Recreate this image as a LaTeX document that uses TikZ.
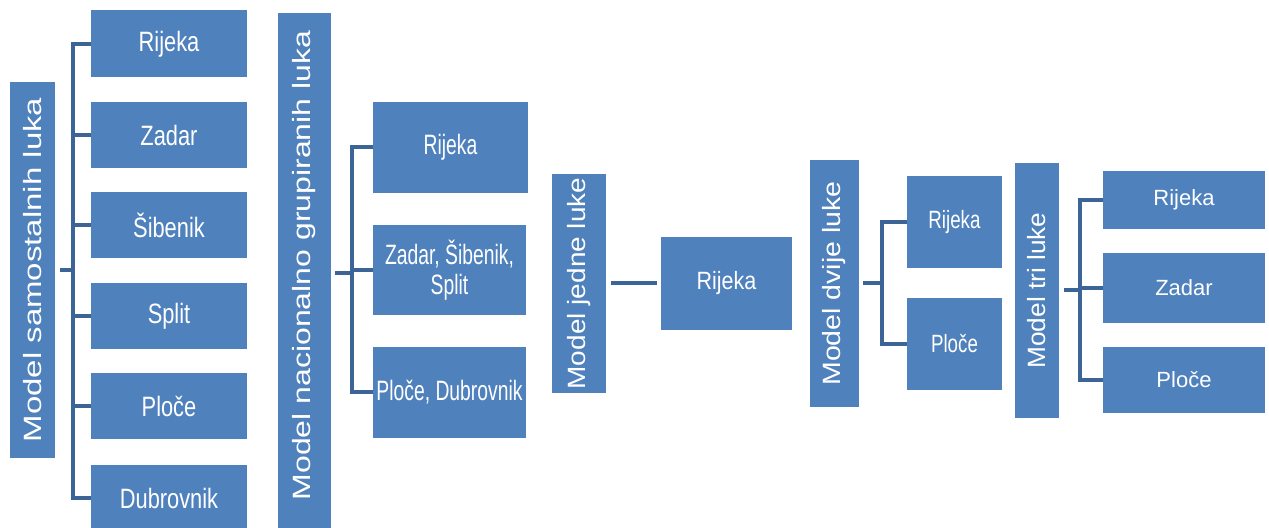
\documentclass[tikz,border=0pt]{standalone}
\usepackage{fontspec}
\setmainfont{Liberation Sans}
\usepackage{graphicx}
\usepackage{xcolor}
\usepackage{tikz}

\definecolor{portblue}{HTML}{4F81BD}
\definecolor{linkblue}{HTML}{3C6496}

\tikzset{
    model/.style={rectangle, fill=portblue, text=white, inner sep=0pt, font=\fontsize{12.5}{15}\selectfont},
    port/.style 2 args={rectangle, fill=portblue, text=white, align=center, inner sep=1pt,
        font=\fontsize{#1}{15}\selectfont\addfontfeature{FakeStretch=#2}},
    link/.style={draw=linkblue, line width=2pt}
}

\begin{document}
\begin{tikzpicture}[x=0.5pt, y=-0.5pt]
    \useasboundingbox (0,0) rectangle (1269,528);

    % Models
    \node[model, minimum width=22.5pt, minimum height=188pt] (m1) at (32.5,270) {\rotatebox{90}{\scalebox{1.32}[1]{Model samostalnih luka}}};
    \node[model, minimum width=26.5pt, minimum height=260pt] (m2) at (304.5,273.5) {\rotatebox{90}{\hspace{8pt}\scalebox{1.28}[1]{Model nacionalno grupiranih luka}}};
    \node[model, minimum width=27pt, minimum height=109.5pt] (m3) at (579,283.5) {\rotatebox{90}{\scalebox{1.12}[1]{Model jedne luke}}};
    \node[model, minimum width=24.5pt, minimum height=123.5pt] (m4) at (834.5,283.5) {\rotatebox{90}{\scalebox{1.14}[1]{Model dvije luke}}};
    \node[model, minimum width=22pt, minimum height=127.5pt] (m5) at (1037,290.5) {\rotatebox{90}{\scalebox{1.05}[1]{Model tri luke}}};

    % Ports
    \node[port={14}{0.78}, minimum width=78pt, minimum height=33.5pt] (a1) at (169,44) {Rijeka};
    \node[port={14}{0.78}, minimum width=78pt, minimum height=33pt] (a2) at (169,135) {Zadar};
    \node[port={14}{0.78}, minimum width=78pt, minimum height=33pt] (a3) at (169,225) {Šibenik};
    \node[port={14}{0.78}, minimum width=78pt, minimum height=33pt] (a4) at (169,316) {Split};
    \node[port={14}{0.78}, minimum width=78pt, minimum height=33pt] (a5) at (169,406) {Ploče};
    \node[port={14}{0.78}, minimum width=78pt, minimum height=33pt] (a6) at (169,498) {Dubrovnik};

    \node[port={14}{0.69}, minimum width=77.5pt, minimum height=45.5pt] (b1) at (450.5,147.5) {Rijeka};
    \node[port={14}{0.69}, minimum width=76.5pt, minimum height=45pt] (b2) at (449.5,270) {Zadar, Šibenik,\\Split};
    \node[port={14}{0.69}, minimum width=76.5pt, minimum height=45.5pt] (b3) at (449.5,392.5) {Ploče, Dubrovnik};

    \node[port={12.5}{0.86}, minimum width=65.5pt, minimum height=46.5pt] (c1) at (726.5,283.5) {Rijeka};

    \node[port={12.5}{0.75}, minimum width=47.5pt, minimum height=46pt] (d1) at (954.5,222) {Rijeka};
    \node[port={12.5}{0.75}, minimum width=47.5pt, minimum height=46pt] (d2) at (954.5,344) {Ploče};

    \node[port={11}{1}, minimum width=81pt, minimum height=29pt] (e1) at (1184,200) {Rijeka};
    \node[port={11}{1}, minimum width=81pt, minimum height=35pt] (e2) at (1184,288) {Zadar};
    \node[port={11}{1}, minimum width=81pt, minimum height=33pt] (e3) at (1184,380) {Ploče};

    % Connectors
    \coordinate (j1) at (73,270);
    \coordinate (j2) at (352,273.5);
    \coordinate (j4) at (882,283.5);
    \coordinate (j5) at (1080,290.5);

    \draw[link] ([xshift=2.5pt]m1.east) -- (j1);
    \draw[link] (j1) |- (a1.west);
    \draw[link] (j1) |- (a2.west);
    \draw[link] (j1) |- (a3.west);
    \draw[link] (j1) |- (a4.west);
    \draw[link] (j1) |- (a5.west);
    \draw[link] (j1) |- (a6.west);

    \draw[link] ([xshift=2pt]m2.east) -- (j2);
    \draw[link] (j2) |- (b1.west);
    \draw[link] (j2) |- (b2.west);
    \draw[link] (j2) |- (b3.west);

    \draw[link] ([xshift=2.5pt]m3.east) -- ([xshift=-2pt]c1.west);

    \draw[link] ([xshift=2pt]m4.east) -- (j4);
    \draw[link] (j4) |- (d1.west);
    \draw[link] (j4) |- (d2.west);

    \draw[link] ([xshift=2.5pt]m5.east) -- (j5);
    \draw[link] (j5) |- (e1.west);
    \draw[link] (j5) |- (e2.west);
    \draw[link] (j5) |- (e3.west);
\end{tikzpicture}
\end{document}
